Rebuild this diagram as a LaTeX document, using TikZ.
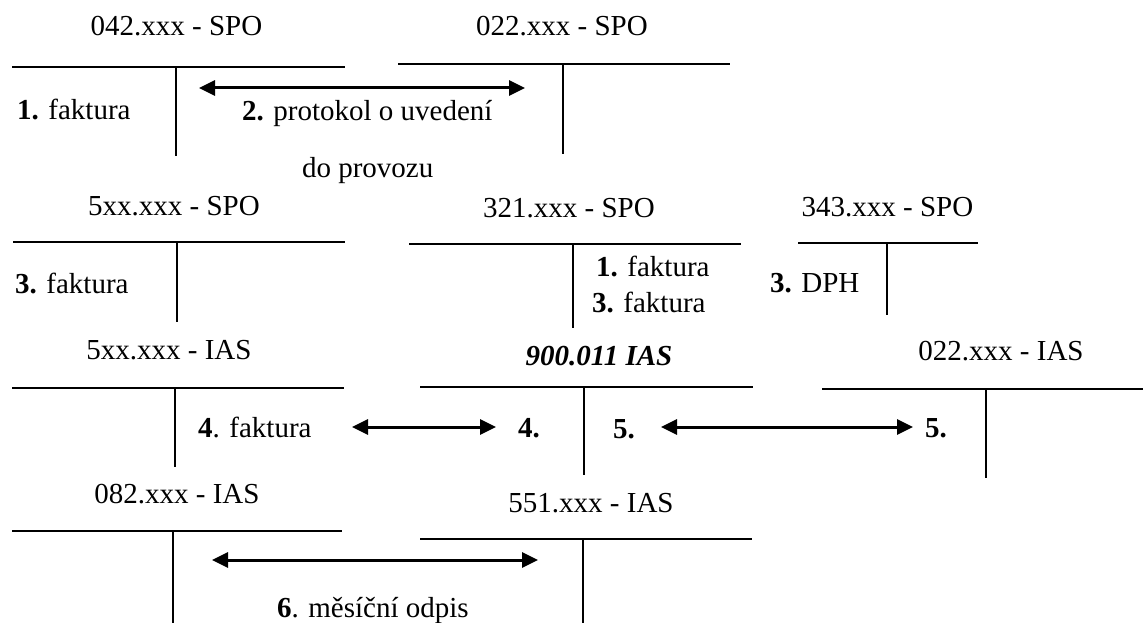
\documentclass[tikz,border=0pt]{standalone}
\usepackage{fontspec}
\setmainfont{Liberation Serif}
\usetikzlibrary{arrows.meta}
\begin{document}
\begin{tikzpicture}[x=1pt,y=-1pt,
  txt/.style={inner sep=0pt,outer sep=0pt,font=\fontsize{29}{34}\selectfont},
  lbl/.style={txt,anchor=base west},
  ttl/.style={txt,anchor=base},
  hline/.style={line width=2.2pt},
  vline/.style={line width=1.5pt},
  dbl/.style={line width=3pt,{Triangle[length=16pt,width=15pt]}-{Triangle[length=16pt,width=15pt]}}]
\useasboundingbox (0,0) rectangle (1143,623);

% ---- titles
\node[ttl] (t042) at (176.5,36) {042.xxx - SPO};
\node[ttl] (t022s) at (562,36) {022.xxx - SPO};
\node[ttl] (t5xxs) at (174,215) {5xx.xxx - SPO};
\node[ttl] (t321) at (569,217) {321.xxx - SPO};
\node[ttl] (t343) at (887.5,216) {343.xxx - SPO};
\node[ttl] (t5xxi) at (169,359) {5xx.xxx - IAS};
\node[ttl] (t900) at (599,365) {\textbf{\textit{900.011 IAS}}};
\node[ttl] (t022i) at (1001,360) {022.xxx - IAS};
\node[ttl] (t082) at (177,503) {082.xxx - IAS};
\node[ttl] (t551) at (591,512) {551.xxx - IAS};

% ---- T accounts
\draw[hline] (12,67) -- (345,67);   \draw[vline] (176,67) -- (176,156);
\draw[hline] (398,64) -- (730,64);  \draw[vline] (563,64) -- (563,154);
\draw[hline] (13,242) -- (345,242); \draw[vline] (177,242) -- (177,322);
\draw[hline] (409,244) -- (741,244); \draw[vline] (573,244) -- (573,328);
\draw[hline] (798,243) -- (978,243); \draw[vline] (887,243) -- (887,315);
\draw[hline] (12,388) -- (344,388); \draw[vline] (175,388) -- (175,467);
\draw[hline] (420,387) -- (753,387); \draw[vline] (584,387) -- (584,475);
\draw[hline] (822,389) -- (1143,389); \draw[vline] (986,389) -- (986,478);
\draw[hline] (12,531) -- (342,531); \draw[vline] (173,531) -- (173,623);
\draw[hline] (420,539) -- (752,539); \draw[vline] (583,539) -- (583,623);

% ---- labels
\node[lbl] (l1f) at (17,120) {\textbf{1.} faktura};
\node[lbl] (l2p) at (242,121) {\textbf{2.} protokol o uvedení};
\node[lbl] (l2d) at (302,177) {do provozu};
\node[lbl] (l3f) at (15,293) {\textbf{3.} faktura};
\node[lbl] (l1f321) at (596,276) {\textbf{1.} faktura};
\node[lbl] (l3f321) at (592,312) {\textbf{3.} faktura};
\node[lbl] (l3dph) at (770,292) {\textbf{3.} DPH};
\node[lbl] (l4f) at (198,437) {\textbf{4}. faktura};
\node[lbl] (l4) at (518,437) {\textbf{4.}};
\node[lbl] (l5a) at (613,438) {\textbf{5.}};
\node[lbl] (l5b) at (925,437) {\textbf{5.}};
\node[lbl] (l6) at (277,617) {\textbf{6}. měsíční odpis};

% ---- arrows
\coordinate (a1l) at (199,88);  \coordinate (a1r) at (525,88);
\coordinate (a2l) at (352,427); \coordinate (a2r) at (496,427);
\coordinate (a3l) at (661,427); \coordinate (a3r) at (913,427);
\coordinate (a4l) at (212,560); \coordinate (a4r) at (538,560);
\draw[dbl] (a1l) -- (a1r);
\draw[dbl] (a2l) -- (a2r);
\draw[dbl] (a3l) -- (a3r);
\draw[dbl] (a4l) -- (a4r);
\end{tikzpicture}
\end{document}
